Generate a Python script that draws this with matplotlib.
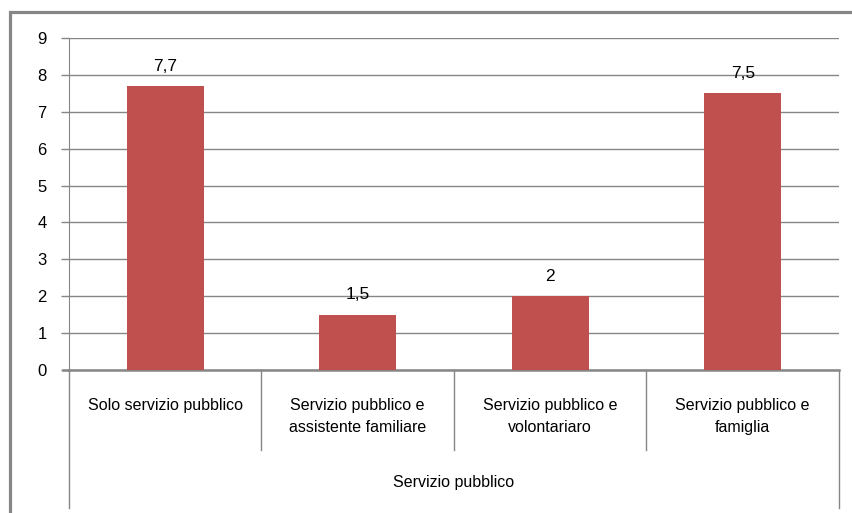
import matplotlib
matplotlib.use('Agg')
from matplotlib import pyplot as plt
from matplotlib.patches import Rectangle
from matplotlib import transforms
import numpy as np

categories = ['Solo servizio pubblico',
              'Servizio pubblico e\nassistente familiare',
              'Servizio pubblico e\nvolontariaro',
              'Servizio pubblico e\nfamiglia']
values = [7.7, 1.5, 2.0, 7.5]
value_labels = ['7,7', '1,5', '2', '7,5']
group_label = 'Servizio pubblico'
y_ticks = list(range(0, 10))

W, H = 853, 513
plt.rcParams['font.family'] = ['Liberation Sans', 'DejaVu Sans']
fig = plt.figure(figsize=(W / 100, H / 100), dpi=100)
grey = '#868686'

# bordo esterno del grafico
fig.patches.append(Rectangle((10.5 / W, -0.1), 1.2, 1 - 12 / H + 0.1,
                             transform=fig.transFigure, fill=False,
                             edgecolor=grey, linewidth=2.3))

ax = fig.add_axes([69 / W, 1 - 370 / H, (839 - 69) / W, (370 - 38) / H])
x = np.arange(len(categories))
ax.bar(x, values, width=0.4, color='#C0504D', zorder=3)
for xi, v, lab in zip(x, values, value_labels):
    ax.text(xi, v + 0.33, lab, ha='center', va='bottom', fontsize=12.5)

ax.set_xlim(-0.5, len(categories) - 0.5)
ax.set_ylim(0, 9)
ax.set_yticks(y_ticks)
ax.set_yticklabels([str(t) for t in y_ticks], fontsize=12)
ax.tick_params(axis='y', length=6, color=grey, width=1, pad=10)
ax.set_xticks([])
ax.grid(axis='y', color=grey, linewidth=1, zorder=0)
for s in ['top', 'right']:
    ax.spines[s].set_visible(False)
ax.spines['left'].set_color(grey)
ax.spines['bottom'].set_color(grey)
ax.spines['bottom'].set_linewidth(1.8)

# etichette categorie e separatori sotto l'asse
trans = transforms.blended_transform_factory(ax.transData, ax.transAxes)
ax.plot([-0.5 - 0.03, -0.5], [0, 0], color=grey, lw=1.8, transform=trans, clip_on=False)
for b in np.arange(-0.5, len(categories), 1.0):
    low = -0.416 if b in (-0.5, len(categories) - 0.5) else -0.241
    ax.plot([b, b], [0, low], color=grey, lw=1, transform=trans, clip_on=False)
for xi, lab in zip(x, categories):
    ax.text(xi, -0.085, lab, ha='center', va='top', fontsize=11.5,
            linespacing=1.6, transform=trans)
ax.text((len(categories) - 1) / 2, -0.34, group_label, ha='center', va='center',
        fontsize=11.5, transform=trans)

fig.savefig('out.png', dpi=100)
